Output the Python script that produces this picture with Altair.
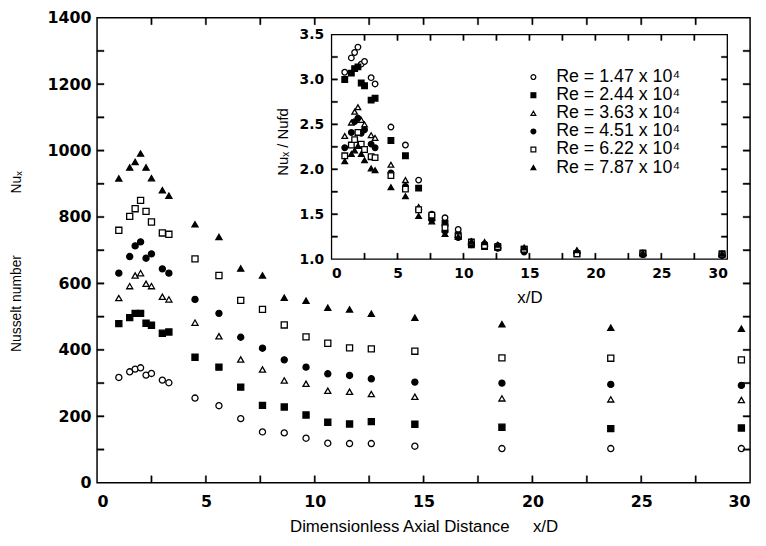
import altair as alt
import pandas as pd

# ---------------- data ----------------
x_positions = [1.0, 1.5, 1.75, 2.0, 2.25, 2.5, 3.0, 3.3, 4.5, 5.6, 6.6, 7.6, 8.6,
               9.6, 10.6, 11.6, 12.6, 14.6, 18.6, 23.6, 29.6]

series_labels = ["Re = 1.47 x 10⁴", "Re = 2.44 x 10⁴", "Re = 3.63 x 10⁴",
                 "Re = 4.51 x 10⁴", "Re = 6.22 x 10⁴", "Re = 7.87 x 10⁴"]
series_shapes = ["circle", "square", "triangle-up", "circle", "square", "triangle-up"]
series_fills = ["white", "black", "white", "black", "white", "black"]

# Main panel: local Nusselt number Nu_x
nu_147 = [317, 334, 342, 346, 324, 329, 309, 301, 255, 232, 193, 153, 150, 134, 119, 118, 118, 110, 103, 103, 103]
nu_244 = [479, 497, 510, 510, 480, 474, 450, 454, 378, 348, 288, 233, 228, 204, 182, 177, 184, 176, 167, 163, 165]
nu_363 = [556, 592, 624, 631, 599, 592, 560, 552, 482, 441, 371, 341, 308, 298, 277, 274, 267, 259, 254, 251, 249]
nu_451 = [631, 681, 713, 725, 676, 689, 644, 631, 552, 510, 438, 405, 370, 348, 328, 323, 313, 303, 300, 296, 293]
nu_622 = [760, 802, 825, 850, 817, 785, 752, 748, 674, 624, 549, 522, 475, 439, 420, 406, 403, 396, 376, 375, 370]
nu_787 = [916, 949, 966, 991, 949, 917, 881, 864, 778, 740, 645, 624, 557, 548, 527, 522, 509, 497, 477, 467, 464]

# Inset: Nu_x / Nu_fd
r_147 = [3.08, 3.24, 3.30, 3.36, 3.17, 3.20, 3.02, 2.95, 2.47, 2.27, 1.88, 1.50, 1.46, 1.33, 1.19, 1.17, 1.15, 1.10, 1.07, 1.05, 1.05]
r_244 = [3.00, 3.07, 3.12, 3.14, 2.96, 2.93, 2.77, 2.79, 2.32, 2.15, 1.79, 1.46, 1.40, 1.27, 1.16, 1.14, 1.13, 1.11, 1.06, 1.07, 1.06]
r_363 = [2.37, 2.52, 2.64, 2.69, 2.55, 2.50, 2.38, 2.35, 2.05, 1.88, 1.58, 1.46, 1.33, 1.27, 1.19, 1.17, 1.15, 1.11, 1.09, 1.07, 1.06]
r_451 = [2.24, 2.41, 2.53, 2.57, 2.40, 2.44, 2.28, 2.24, 1.96, 1.81, 1.55, 1.44, 1.31, 1.24, 1.16, 1.15, 1.12, 1.08, 1.07, 1.05, 1.04]
r_622 = [2.15, 2.27, 2.33, 2.41, 2.28, 2.22, 2.14, 2.13, 1.93, 1.78, 1.55, 1.49, 1.35, 1.25, 1.19, 1.15, 1.14, 1.11, 1.06, 1.06, 1.05]
r_787 = [2.09, 2.17, 2.21, 2.26, 2.17, 2.10, 2.01, 1.99, 1.80, 1.70, 1.48, 1.42, 1.28, 1.25, 1.20, 1.19, 1.16, 1.13, 1.10, 1.07, 1.06]

main_x_labels = [0, 5, 10, 15, 20, 25, 30]
main_y_labels = [0, 200, 400, 600, 800, 1000, 1200, 1400]
main_x_ticks = [2.5, 5, 7.5, 10, 12.5, 15, 17.5, 20, 22.5, 25, 27.5]
main_y_ticks = [100, 200, 300, 400, 500, 600, 700, 800, 900, 1000, 1100, 1200, 1300]
inset_x_labels = [0, 5, 10, 15, 20, 25, 30]
inset_y_labels = [1.0, 1.5, 2.0, 2.5, 3.0, 3.5]
inset_x_ticks = [2.5, 5, 7.5, 10, 12.5, 15, 17.5, 20, 22.5, 25, 27.5]
inset_y_ticks = [1.25, 1.5, 1.75, 2.0, 2.25, 2.5, 2.75, 3.0, 3.25]

# ---------------- tables ----------------
main_rows, inset_rows = [], []
for lab, nus, rs in zip(series_labels,
                        [nu_147, nu_244, nu_363, nu_451, nu_622, nu_787],
                        [r_147, r_244, r_363, r_451, r_622, r_787]):
    for xv, nv, rv in zip(x_positions, nus, rs):
        main_rows.append({"x": xv, "nu": nv, "series": lab})
        inset_rows.append({"x": xv, "ratio": rv, "series": lab})
df_main = pd.DataFrame(main_rows)
df_inset = pd.DataFrame(inset_rows)


def tick_table(xt, yt, x0, x1, y0, y1, dx, dy, wx, wy):
    """Inward tick segments (thin rectangles) on the four edges of a frame, data units."""
    rows = []
    for v in yt:
        rows.append({"tx": x0, "tx2": x0 + dx, "ty": v - wy, "ty2": v + wy})
        rows.append({"tx": x1 - dx, "tx2": x1, "ty": v - wy, "ty2": v + wy})
    for v in xt:
        rows.append({"tx": v - wx, "tx2": v + wx, "ty": y0, "ty2": y0 + dy})
        rows.append({"tx": v - wx, "tx2": v + wx, "ty": y1 - dy, "ty2": y1})
    return pd.DataFrame(rows)


# tick length ~7 px (main) / 6 px (inset), thickness ~1.6 px
df_main_ticks = tick_table(main_x_ticks, main_y_ticks, 0, 30, 0, 1400, 0.32, 21, 0.03, 2.2)
df_inset_ticks = tick_table(inset_x_ticks, inset_y_ticks, 0, 30, 1.0, 3.5, 0.45, 0.066, 0.05, 0.008)

# ---------------- geometry ----------------
PLOT_W, PLOT_H = 660, 470
INS_L, INS_R, INS_B, INS_T = 237, 637, 244, 17   # inset frame inside the plot area

x_main = alt.Scale(domain=[0, 30], nice=False, zero=False)
y_main = alt.Scale(domain=[0, 1400], nice=False, zero=False)
x_ins = alt.Scale(domain=[0, 30], range=[INS_L, INS_R], nice=False, zero=False)
y_ins = alt.Scale(domain=[1.0, 3.5], range=[INS_B, INS_T], nice=False, zero=False)

shape_scale = alt.Scale(domain=series_labels, range=series_shapes)
fill_scale = alt.Scale(domain=series_labels, range=series_fills)
stroke_scale = alt.Scale(domain=series_labels, range=["black"] * 6)

legend = alt.Legend(title=None, orient="none", legendX=432, legendY=51, padding=0,
                    labelFont="Liberation Sans", labelFontSize=18, labelColor="black",
                    labelOffset=14, rowPadding=0.3, symbolSize=24,
                    symbolStrokeWidth=1.2)

bold = dict(labelFont="DejaVu Sans", labelFontWeight="bold", labelColor="black")
NB = "\u00a0"

ax_main_x = alt.Axis(
    orient="bottom", values=main_x_labels, ticks=False, domain=False, grid=False,
    labelFontSize=16, labelPadding=11, **bold,
    title="Dimensionless Axial Distance" + NB * 5 + "x/D",
    titleFont="Liberation Sans", titleFontSize=17, titleFontWeight="normal",
    titleColor="black", titleY=44, titleBaseline="middle")
ax_main_y = alt.Axis(
    orient="left", values=main_y_labels, format="d", ticks=False, domain=False,
    grid=False, labelFontSize=16, labelPadding=6, **bold,
    title="Nusselt number" + NB * 16 + "Nuₓ",
    titleFont="Liberation Sans", titleFontSize=14, titleFontWeight="normal",
    titleColor="black", titleAngle=270, titleX=-81, titleY=246,
    titleAlign="center", titleBaseline="middle")
ax_ins_x = alt.Axis(
    orient="bottom", offset=-(PLOT_H - INS_B), values=inset_x_labels, ticks=False,
    domain=False, grid=False, labelFontSize=14, labelPadding=8, **bold,
    title="x/D", titleFont="Liberation Sans", titleFontSize=17,
    titleFontWeight="normal", titleColor="black", titleX=437, titleY=39,
    titleBaseline="middle")
ax_ins_y = alt.Axis(
    orient="left", offset=-INS_L, values=inset_y_labels, format=".1f", ticks=False,
    domain=False, grid=False, labelFontSize=14, labelPadding=8, **bold,
    title="Nuₓ / Nufd", titleFont="Liberation Sans", titleFontSize=15,
    titleFontWeight="normal", titleColor="black", titleAngle=270,
    titleX=-50, titleY=125, titleAlign="center", titleBaseline="middle")


def points(df, ycol, sx, sy, axx, axy, show_legend, size):
    lg = legend if show_legend else None
    return alt.Chart(df).mark_point(
        filled=True, size=size, strokeWidth=1.3, opacity=1
    ).encode(
        x=alt.X("x:Q", scale=sx, axis=axx),
        y=alt.Y(f"{ycol}:Q", scale=sy, axis=axy),
        shape=alt.Shape("series:N", scale=shape_scale, legend=lg),
        fill=alt.Fill("series:N", scale=fill_scale, legend=lg),
        stroke=alt.Stroke("series:N", scale=stroke_scale, legend=lg),
    )


def ticks(df, sx, sy, axx, axy):
    return alt.Chart(df).mark_rect(fill="black", stroke="black", strokeWidth=0.4,
                                   opacity=1).encode(
        x=alt.X("tx:Q", scale=sx, axis=axx),
        x2="tx2:Q",
        y=alt.Y("ty:Q", scale=sy, axis=axy),
        y2="ty2:Q",
    )


main_layer = alt.layer(
    points(df_main, "nu", x_main, y_main, ax_main_x, ax_main_y, True, 38),
    ticks(df_main_ticks, x_main, y_main, ax_main_x, ax_main_y),
)

inset_frame = alt.Chart(pd.DataFrame({"a": [0]})).mark_rect(
    fill="white", stroke="black", strokeWidth=1.3
).encode(
    x=alt.XDatum(0, type="quantitative", scale=x_ins, axis=ax_ins_x),
    x2=alt.X2Datum(30),
    y=alt.YDatum(1.0, type="quantitative", scale=y_ins, axis=ax_ins_y),
    y2=alt.Y2Datum(3.5),
)

inset_layer = alt.layer(
    inset_frame,
    points(df_inset, "ratio", x_ins, y_ins, ax_ins_x, ax_ins_y, False, 32),
    ticks(df_inset_ticks, x_ins, y_ins, ax_ins_x, ax_ins_y),
)

chart = alt.layer(main_layer, inset_layer).resolve_scale(
    x="independent", y="independent"
).properties(
    width=PLOT_W, height=PLOT_H,
    autosize=alt.AutoSizeParams(type="none"),
    padding={"left": 90, "top": 7, "right": 8, "bottom": 50},
).configure_view(stroke="black", strokeWidth=1.5)

chart.save("out.html", embed_options={"renderer": "svg", "actions": False})
